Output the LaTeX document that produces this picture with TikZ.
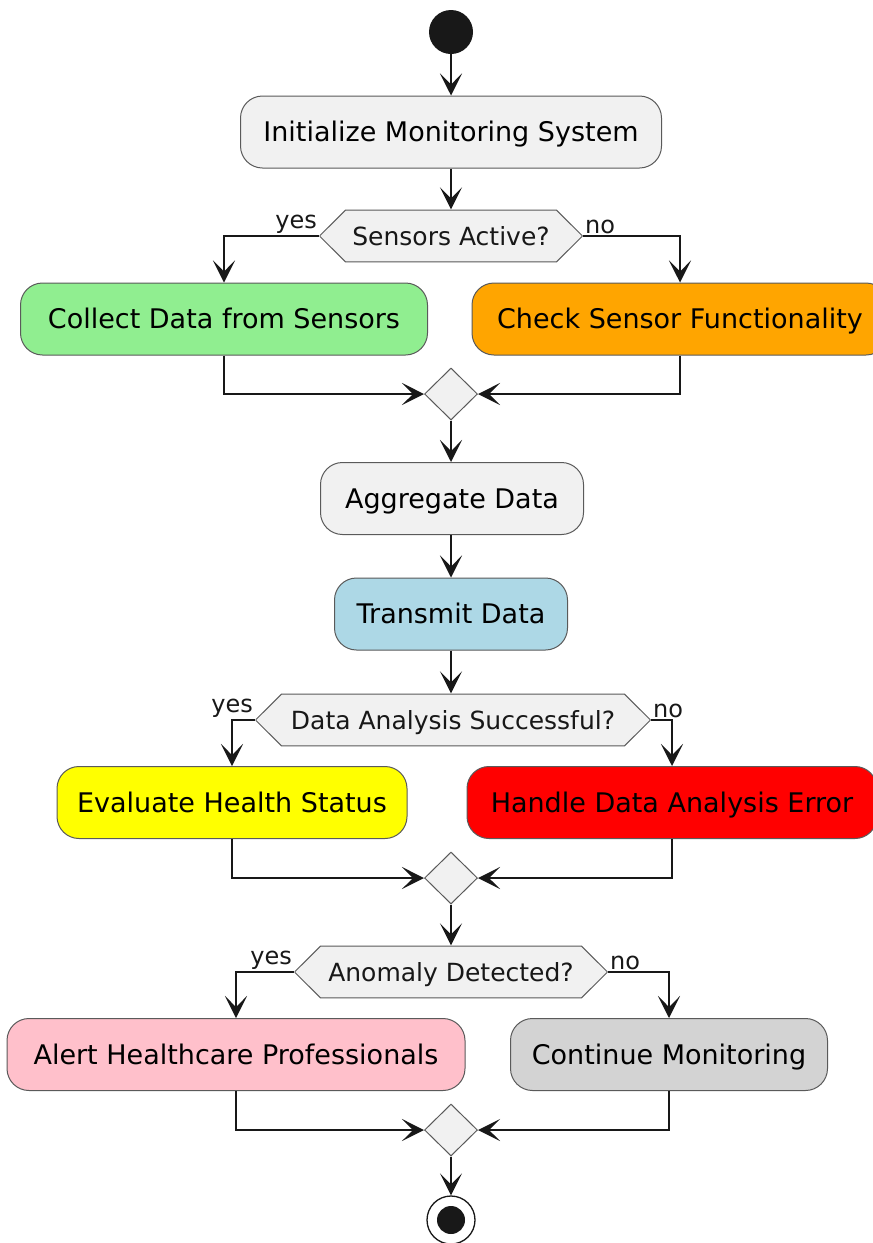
\documentclass[tikz,border=0pt]{standalone}
\usepackage{fontspec}
\setmainfont{DejaVu Sans}
\usetikzlibrary{shapes.geometric,arrows.meta}
\definecolor{bgc}{HTML}{F1F1F1}
\definecolor{linec}{HTML}{181818}
\definecolor{borderc}{HTML}{5A5A5A}
\definecolor{cgreen}{HTML}{90EE90}
\definecolor{corange}{HTML}{FFA500}
\definecolor{cblue}{HTML}{ADD8E6}
\definecolor{cyellow}{HTML}{FFFF00}
\definecolor{cred}{HTML}{FF0000}
\definecolor{cpink}{HTML}{FFC0CB}
\definecolor{cgray}{HTML}{D3D3D3}
\tikzset{
  act/.style={draw=borderc, line width=1pt, rounded corners=22pt, fill=bgc,
    minimum height=72pt, inner sep=0pt, text height=19.7pt, text depth=0pt,
    font=\fontsize{27}{32}\selectfont, text=black},
  dec/.style={minimum height=53pt, inner sep=0pt, text height=18.2pt, text depth=0pt,
    font=\fontsize{25}{30}\selectfont, text=linec,
    path picture={\draw[draw=borderc, line width=1pt, fill=bgc]
      ([yshift=0pt]path picture bounding box.west)
      -- ([shift={(26pt,-0.6pt)}]path picture bounding box.north west)
      -- ([shift={(-26pt,-0.6pt)}]path picture bounding box.north east)
      -- (path picture bounding box.east)
      -- ([shift={(-26pt,0.6pt)}]path picture bounding box.south east)
      -- ([shift={(26pt,0.6pt)}]path picture bounding box.south west)
      -- cycle;}},
  merge/.style={diamond, draw=borderc, line width=1pt, fill=bgc, minimum width=53pt,
    minimum height=52pt, inner sep=0pt},
  arr/.style={draw=linec, line width=1.8pt,
    -{Stealth[length=22pt, width=22pt, inset=11pt]}},
  lbl/.style={font=\fontsize{24}{28}\selectfont, text=linec, inner sep=1.5pt}
}
\begin{document}
\begin{tikzpicture}[x=1pt, y=-1pt]
\useasboundingbox (0,0) rectangle (873,1243);
\fill[white] (0,0) rectangle (873,1243);

\node[circle, fill=linec, minimum size=44pt, inner sep=0pt] (start) at (451,32) {};
\node[act, minimum width=421pt] (init) at (451,132) {Initialize Monitoring System};
\node[dec, minimum width=263pt] (d1) at (451,236) {Sensors Active?};
\node[act, fill=cgreen, minimum width=407pt] (collect) at (224,319) {Collect Data from Sensors};
\node[act, fill=corange, minimum width=416pt] (check) at (680,319) {Check Sensor Functionality};
\node[merge] (m1) at (451,394) {};
\node[act, minimum width=263pt] (agg) at (452,498.5) {Aggregate Data};
\node[act, fill=cblue, minimum width=233pt] (trans) at (451,614) {Transmit Data};
\node[dec, minimum width=395pt] (d2) at (453,720) {Data Analysis Successful?};
\node[act, fill=cyellow, minimum width=350pt] (eval) at (232,802.5) {Evaluate Health Status};
\node[act, fill=cred, minimum width=410pt] (handle) at (672,802.5) {Handle Data Analysis Error};
\node[merge] (m2) at (451,878) {};
\node[dec, minimum width=313pt] (d3) at (451,972) {Anomaly Detected?};
\node[act, fill=cpink, minimum width=458pt] (alert) at (236,1054.5) {Alert Healthcare Professionals};
\node[act, fill=cgray, minimum width=317pt] (cont) at (669,1054.5) {Continue Monitoring};
\node[merge] (m3) at (451,1130) {};
\node[circle, draw=linec, line width=1.3pt, fill=white, minimum size=48pt, inner sep=0pt] (end) at (451,1220) {};
\fill[linec] (end.center) circle[radius=14pt];

\draw[arr] (start) -- (init);
\draw[arr] (init) -- (d1);
\draw[arr] (d1.west) node[lbl, anchor=south east] {yes} -| (collect.north);
\draw[arr] (d1.east) node[lbl, anchor=south west] {no} -| (check.north);
\draw[arr] (collect.south) |- (m1.west);
\draw[arr] (check.south) |- (m1.east);
\draw[arr] (m1) -- (m1 |- agg.north);
\draw[arr] (agg.south -| m1) -- (trans.north -| m1);
\draw[arr] (trans.south -| m1) -- (d2.north -| m1);
\draw[arr] (d2.west) node[lbl, anchor=south east] {yes} -| (eval.north);
\draw[arr] (d2.east) node[lbl, anchor=south west] {no} -| (handle.north);
\draw[arr] (eval.south) |- (m2.west);
\draw[arr] (handle.south) |- (m2.east);
\draw[arr] (m2) -- (m2 |- d3.north);
\draw[arr] (d3.west) node[lbl, anchor=south east] {yes} -| (alert.north);
\draw[arr] (d3.east) node[lbl, anchor=south west] {no} -| (cont.north);
\draw[arr] (alert.south) |- (m3.west);
\draw[arr] (cont.south) |- (m3.east);
\draw[arr] (m3) -- (end);
\end{tikzpicture}
\end{document}
